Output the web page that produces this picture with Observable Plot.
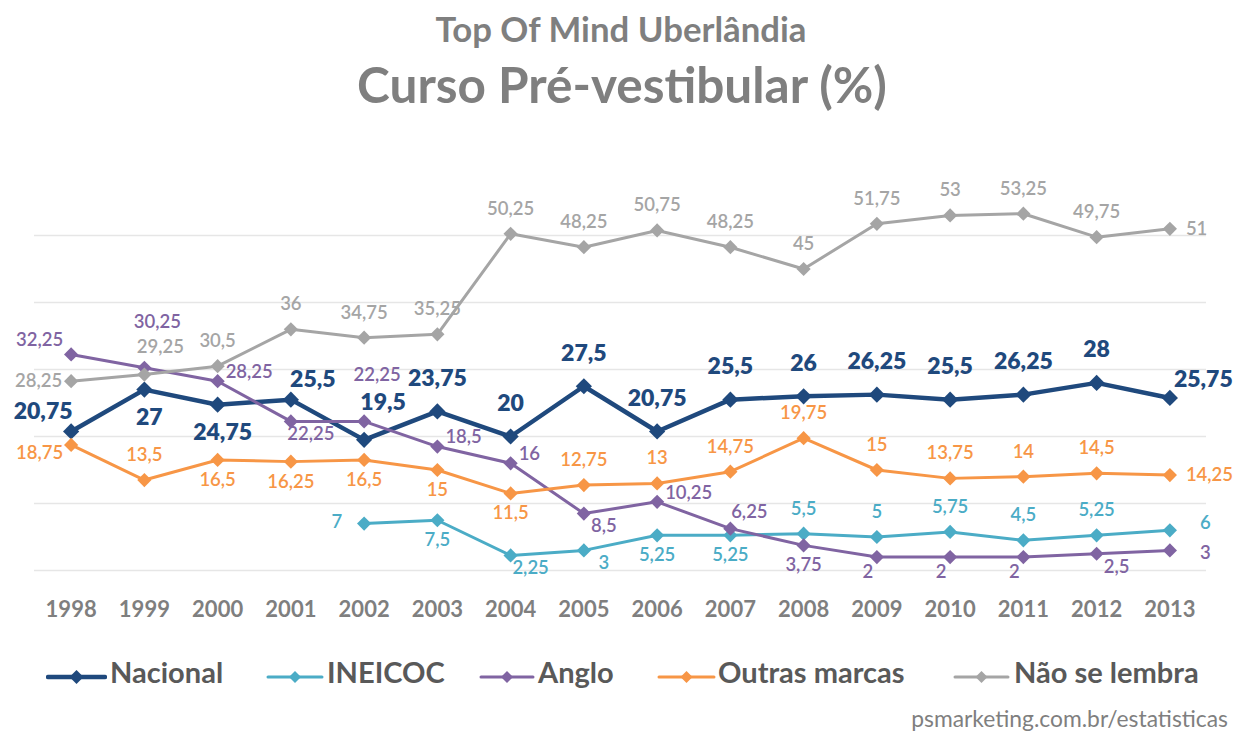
<!DOCTYPE html>
<html>
<head>
<meta charset="utf-8">
<script src="https://cdn.jsdelivr.net/npm/d3@7"></script>
<script src="https://cdn.jsdelivr.net/npm/@observablehq/plot@0.6"></script>
<style>
  html, body { margin: 0; padding: 0; background: #fff; }
  #wrap { position: relative; width: 1237px; height: 738px; overflow: hidden; font-family: Lato, "Open Sans", sans-serif; }
  .t { position: absolute; white-space: nowrap; line-height: 1; }
  #chart { position: absolute; left: 0; top: 140px; }
  #chart svg { overflow: visible; }
</style>
</head>
<body>
<div id="wrap">
  <span class="t" id="title1" style="font-weight:700;color:#7f7f7f;font-size:31px;">Top Of Mind Uberlândia</span>
  <span class="t" id="title2" style="font-weight:700;color:#7f7f7f;font-size:48px;">Curso Pré-vestibular (%)</span>
  <div id="chart"></div>
  <div id="legend"></div>
  <span class="t" id="footer" style="color:#7f7f7f;font-size:20px;">psmarketing.com.br/estatisticas</span>
</div>
<script>
// ---------- data ----------
const years = [1998, 1999, 2000, 2001, 2002, 2003, 2004, 2005, 2006, 2007, 2008, 2009, 2010, 2011, 2012, 2013];
const seriesNames = ["Nacional", "INEICOC", "Anglo", "Outras marcas", "Não se lembra"];
const nacional   = [20.75, 27, 24.75, 25.5, 19.5, 23.75, 20, 27.5, 20.75, 25.5, 26, 26.25, 25.5, 26.25, 28, 25.75];
const ineicoc    = [null, null, null, null, 7, 7.5, 2.25, 3, 5.25, 5.25, 5.5, 5, 5.75, 4.5, 5.25, 6];
const anglo      = [32.25, 30.25, 28.25, 22.25, 22.25, 18.5, 16, 8.5, 10.25, 6.25, 3.75, 2, 2, 2, 2.5, 3];
const outras     = [18.75, 13.5, 16.5, 16.25, 16.5, 15, 11.5, 12.75, 13, 14.75, 19.75, 15, 13.75, 14, 14.5, 14.25];
const naoLembra  = [28.25, 29.25, 30.5, 36, 34.75, 35.25, 50.25, 48.25, 50.75, 48.25, 45, 51.75, 53, 53.25, 49.75, 51];
const gridValues = [0, 10, 20, 30, 40, 50];

// label placement codes (which side of the point each value label sits)
const nacionalPlace = ["AL", "B", "B", "AR", "AAR", "A", "A", "A", "A", "A", "A", "A", "A", "A", "A", "R"];
const ineicocPlace  = [null, null, null, null, "lf", "b", "br", "br", "b", "b", "a", "a", "a", "a", "a", "rr"];
const angloPlace    = ["lu", "aa", "ru", "br", "aa", "ru", "ru", "br", "ru", "ar", "b", "bl", "bl", "bl", "br", "rd"];
const outrasPlace   = ["ld", "a", "b", "b", "b", "b", "b", "a", "a", "a", "a", "a", "a", "a", "a", "r"];
const naoPlace      = ["l", "ah", "a", "a", "a", "a", "a", "a", "a", "a", "a", "a", "a", "a", "a", "r"];

// ---------- styling ----------
const colors = ["#1F497D", "#4BACC6", "#8064A2", "#F79646", "#A5A5A5"];
const values = [nacional, ineicoc, anglo, outras, naoLembra];
const places = [nacionalPlace, ineicocPlace, angloPlace, outrasPlace, naoPlace];
const offsets = {
  AL: [-28, -20, "middle"], B: [5, 28, "middle"], AR: [22, -20, "middle"], AAR: [19, -37, "middle"],
  A: [0, -33, "middle"], R: [4, -18, "start"],
  a: [0, -25, "middle"], ah: [16, -27, "middle"], aa: [13, -46, "middle"], ar: [19, -17, "middle"],
  b: [0, 20, "middle"], bl: [-9, 15, "middle"], br: [20, 13, "middle"],
  r: [16, 0, "start"], rr: [30, -7, "start"], rd: [30, 3, "start"], ru: [8, -9, "start"],
  l: [-9, 0, "end"], lf: [-22, -2, "end"], lu: [-8, -14, "end"], ld: [-8, 8, "end"]
};

const data = [];
seriesNames.forEach((s, i) => years.forEach((yr, j) => {
  const v = values[i][j];
  if (v != null) data.push({series: s, year: yr, value: v, place: places[i][j], label: String(v).replace(".", ",")});
}));

const marks = [Plot.ruleY(gridValues, {stroke: "#e6e6e6", strokeWidth: 1.3})];
seriesNames.forEach((s, i) => {
  const d = data.filter(e => e.series === s);
  const main = i === 0;
  marks.push(Plot.line(d, {x: "year", y: "value", stroke: colors[i], strokeWidth: main ? 4.5 : 3, strokeLinejoin: "round"}));
  marks.push(Plot.dot(d, {x: "year", y: "value", symbol: "diamond2", r: main ? 7.3 : 6.4, fill: colors[i], stroke: "none"}));
});
seriesNames.forEach((s, i) => {
  const main = i === 0;
  const d = data.filter(e => e.series === s);
  for (const code of Object.keys(offsets)) {
    const dd = d.filter(e => e.place === code);
    if (!dd.length) continue;
    const [dx, dy, anchor] = offsets[code];
    marks.push(Plot.text(dd, {
      x: "year", y: "value", text: "label", dx, dy, textAnchor: anchor,
      fill: colors[i], fontSize: main ? 23 : 18.5, fontWeight: main ? 800 : 600
    }));
  }
});
marks.push(Plot.axisX(years, {tickSize: 0, tickPadding: 31, tickFormat: d => String(d), fontSize: 22, fontWeight: "bold", fill: "#7f7f7f", label: null}));

const chart = Plot.plot({
  width: 1237, height: 490,
  marginLeft: 34, marginRight: 31, marginTop: 95, marginBottom: 60,
  x: {domain: [1997.5, 2013.5], label: null},
  y: {domain: [0, 50], axis: null},
  style: {fontFamily: "Lato, 'Open Sans', sans-serif", background: "transparent", overflow: "visible"},
  marks
});
document.getElementById("chart").appendChild(chart);

// ---------- legend ----------
const legendLayout = [[48, 105, 110], [268, 322, 327], [481, 533, 538], [659, 714, 718], [955, 1008, 1014]];
const legend = document.getElementById("legend");
const legendTexts = [];
seriesNames.forEach((s, i) => {
  const [x0, x1, tx] = legendLayout[i];
  const w = x1 - x0;
  const sw = i === 0 ? 4.5 : 3;
  const sample = document.createElementNS("http://www.w3.org/2000/svg", "svg");
  sample.setAttribute("width", w + 4);
  sample.setAttribute("height", 20);
  sample.style.position = "absolute";
  sample.style.left = (x0 - 2) + "px";
  sample.style.top = (677 - 10) + "px";
  const hd = i === 0 ? 7 : 6;
  const c = w / 2 + 2;
  sample.innerHTML = `<line x1="2" x2="${w + 2}" y1="10" y2="10" stroke="${colors[i]}" stroke-width="${sw}" stroke-linecap="round"/>` +
    `<path d="M${c},${10 - hd}L${c + hd},10L${c},${10 + hd}L${c - hd},10Z" fill="${colors[i]}"/>`;
  legend.appendChild(sample);
  const t = document.createElement("span");
  t.className = "t";
  t.textContent = s;
  t.style.cssText += `left:${tx}px;font-weight:700;color:#595959;font-size:25px;`;
  legend.appendChild(t);
  legendTexts.push(t);
});

// ---------- fit and place texts ----------
function fit(el, target) {
  const w = el.getBoundingClientRect().width;
  const fs = parseFloat(el.style.fontSize);
  el.style.fontSize = (fs * target / w) + "px";
}
function centerY(el, cy) {
  const fs = parseFloat(el.style.fontSize);
  el.style.top = (cy - 0.53 * fs) + "px";
}
const t1 = document.getElementById("title1"), t2 = document.getElementById("title2"), ft = document.getElementById("footer");
fit(t1, 371); fit(t2, 530); fit(ft, 317);
t1.style.left = (621 - t1.getBoundingClientRect().width / 2) + "px";
t2.style.left = (622 - t2.getBoundingClientRect().width / 2) + "px";
centerY(t1, 30); centerY(t2, 86);
ft.style.left = (1228 - ft.getBoundingClientRect().width) + "px";
centerY(ft, 719);
const totalW = legendTexts.reduce((a, t) => a + t.getBoundingClientRect().width, 0);
const legFs = 25 * 678 / totalW;
legendTexts.forEach(t => { t.style.fontSize = legFs + "px"; centerY(t, 672); });
</script>
</body>
</html>
